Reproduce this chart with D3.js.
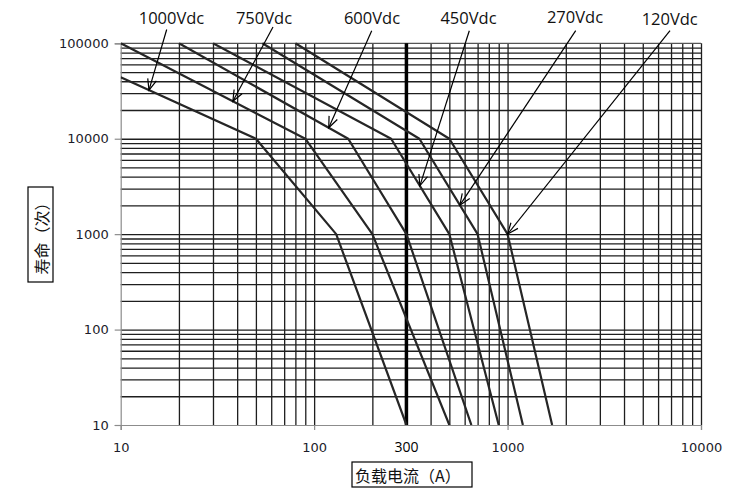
<!DOCTYPE html>
<html>
<head>
<meta charset="utf-8">
<script src="https://cdn.jsdelivr.net/npm/d3@7"></script>
<style>
    body { margin: 0; background: #fff; }
    #chart-1 { width: 750px; height: 494px; }
    .axis path, .axis line { stroke: #8c8c8c; stroke-width: 1.2; }
    .axis text { font-family: "DejaVu Sans", sans-serif; font-size: 13px; fill: #1c1c2a; }
    .grid line { stroke: #1e1e1e; stroke-width: 1.3; }
    .grid path { display: none; }
    .vlabel { font-family: "Open Sans", sans-serif; font-size: 16.5px; fill: #111; }
    .title { font-family: "Noto Sans CJK SC", sans-serif; font-size: 16px; fill: #111; }
</style>
</head>
<body>
<div id="chart-1"></div>
<script>
// series names, in the order of the curves from lower-left to upper-right
const voltages = ["1000Vdc", "750Vdc", "600Vdc", "450Vdc", "270Vdc", "120Vdc"];

// break points of each curve: load current (A) and life (operations)
const load1000 = [10, 50, 130, 300];
const life1000 = [44000, 10000, 1000, 10];
const load750 = [10, 90, 200, 500];
const life750 = [100000, 10000, 1000, 10];
const load600 = [20, 150, 300, 650];
const life600 = [100000, 10000, 1000, 10];
const load450 = [30, 250, 500, 900];
const life450 = [100000, 10000, 1000, 10];
const load270 = [54, 350, 700, 1200];
const life270 = [100000, 10000, 1000, 10];
const load120 = [80, 500, 1000, 1700];
const life120 = [100000, 10000, 1000, 10];

// current at which each label's arrow touches its curve
const arrowLoad = [14, 38, 119, 352, 567, 1000];

// axis ticks
const xTicks = [10, 100, 1000, 10000];
const yTicks = [10, 100, 1000, 10000, 100000];
const markedLoad = 300;

const loads = [load1000, load750, load600, load450, load270, load120];
const lives = [life1000, life750, life600, life450, life270, life120];

// label layout (text centre x, baseline y, arrow tail x, arrow tail y)
const labelLayout = [
    [171.5, 24, 166.7, 29.5],
    [264, 24, 273, 27],
    [372, 24, 371.7, 30.7],
    [468.5, 24, 469.3, 30.7],
    [575, 23, 575.7, 30.7],
    [669.7, 25, 670, 30.7]
];

const width = 750;
const height = 494;
const plot = { left: 120.7, right: 701, top: 43.3, bottom: 425 };

const svg = d3.select("#chart-1")
    .append("svg")
    .attr("width", width)
    .attr("height", height);

/*
SCALES
*/
const xScale = d3.scaleLog()
    .domain([10, 10000])
    .range([plot.left, plot.right]);

const yScale = d3.scaleLog()
    .domain([10, 100000])
    .range([plot.bottom, plot.top]);

/*
GRID
*/
svg.append("g")
    .attr("class", "grid")
    .attr("transform", `translate(0,${plot.bottom})`)
    .call(d3.axisBottom(xScale).tickValues(xScale.ticks().filter(d => d > 10))
        .tickSize(-(plot.bottom - plot.top)).tickFormat(""));

svg.append("g")
    .attr("class", "grid")
    .attr("transform", `translate(${plot.left},0)`)
    .call(d3.axisLeft(yScale).tickValues(yScale.ticks().filter(d => d > 10 && d < 100000))
        .tickSize(-(plot.right - plot.left)).tickFormat(""));

// top edge
svg.append("line")
    .attr("x1", plot.left).attr("x2", plot.right)
    .attr("y1", yScale(100000)).attr("y2", yScale(100000))
    .attr("stroke", "#555").attr("stroke-width", 1.3);

// thick line at 300 A
svg.append("line")
    .attr("x1", xScale(markedLoad)).attr("x2", xScale(markedLoad))
    .attr("y1", plot.top).attr("y2", plot.bottom)
    .attr("stroke", "#000").attr("stroke-width", 3.5);

/*
AXES
*/
svg.append("g")
    .attr("class", "axis")
    .attr("transform", `translate(${plot.left},0)`)
    .call(d3.axisLeft(yScale).tickValues(yTicks).tickFormat(d3.format("d"))
        .tickSizeOuter(0).tickSize(6).tickPadding(6));

svg.append("g")
    .attr("class", "axis")
    .attr("transform", `translate(0,${plot.bottom})`)
    .call(d3.axisBottom(xScale).tickValues(xTicks).tickFormat(d3.format("d"))
        .tickSizeOuter(0).tickSize(5).tickPadding(13));

svg.append("text")
    .attr("x", xScale(markedLoad))
    .attr("y", plot.bottom + 27)
    .attr("text-anchor", "middle")
    .style("font-family", "'Open Sans', sans-serif")
    .style("font-size", "14px")
    .attr("fill", "#000")
    .text(markedLoad);

/*
CURVES
*/
svg.append("clipPath").attr("id", "plot-clip")
    .append("rect")
    .attr("x", plot.left).attr("y", plot.top - 1)
    .attr("width", plot.right - plot.left).attr("height", plot.bottom - plot.top + 1);

const line = d3.line()
    .x(d => xScale(d[0]))
    .y(d => yScale(d[1]));

voltages.forEach(function (v, i) {
    const pts = loads[i].map((x, j) => [x, lives[i][j]]);
    svg.append("path")
        .datum(pts)
        .attr("clip-path", "url(#plot-clip)")
        .attr("fill", "none")
        .attr("stroke", "#262626")
        .attr("stroke-width", 2.2)
        .attr("stroke-linejoin", "round")
        .attr("d", line);
});

// life on a curve at a given current (straight segments in log-log)
function lifeAt(xs, ys, x) {
    let k = 0;
    while (k < xs.length - 2 && x > xs[k + 1]) k++;
    const t = (Math.log10(x) - Math.log10(xs[k])) / (Math.log10(xs[k + 1]) - Math.log10(xs[k]));
    return Math.pow(10, Math.log10(ys[k]) + t * (Math.log10(ys[k + 1]) - Math.log10(ys[k])));
}

/*
LABELS + ARROWS
*/
svg.append("defs").append("marker")
    .attr("id", "arrow")
    .attr("markerUnits", "userSpaceOnUse")
    .attr("viewBox", "-12 -7 14 14")
    .attr("markerWidth", 14).attr("markerHeight", 14)
    .attr("refX", 0).attr("refY", 0)
    .attr("orient", "auto")
    .append("path")
    .attr("d", "M-11,-4.5L0,0L-11,4.5")
    .attr("fill", "none")
    .attr("stroke", "#000")
    .attr("stroke-width", 1.2);

voltages.forEach(function (v, i) {
    const [tx, ty, ax, ay] = labelLayout[i];
    const x = arrowLoad[i];
    svg.append("line")
        .attr("x1", ax).attr("y1", ay)
        .attr("x2", xScale(x)).attr("y2", yScale(lifeAt(loads[i], lives[i], x)))
        .attr("stroke", "#000")
        .attr("stroke-width", 1.2)
        .attr("marker-end", "url(#arrow)");
    svg.append("text")
        .attr("class", "vlabel")
        .attr("x", tx).attr("y", ty)
        .attr("text-anchor", "middle")
        .text(v);
});

/*
AXIS TITLES
*/
svg.append("rect")
    .attr("x", 28).attr("y", 187).attr("width", 25).attr("height", 95)
    .attr("fill", "none").attr("stroke", "#000").attr("stroke-width", 1.2);

svg.append("text")
    .attr("class", "title")
    .attr("transform", "translate(41,234.5) rotate(-90)")
    .attr("text-anchor", "middle")
    .attr("dominant-baseline", "central")
    .text("寿命（次）");

svg.append("rect")
    .attr("x", 352).attr("y", 462).attr("width", 120).attr("height", 25)
    .attr("fill", "none").attr("stroke", "#000").attr("stroke-width", 1.2);

svg.append("text")
    .attr("class", "title")
    .attr("x", 355).attr("y", 474.5)
    .attr("dominant-baseline", "central")
    .text("负载电流（A）");
</script>
</body>
</html>
